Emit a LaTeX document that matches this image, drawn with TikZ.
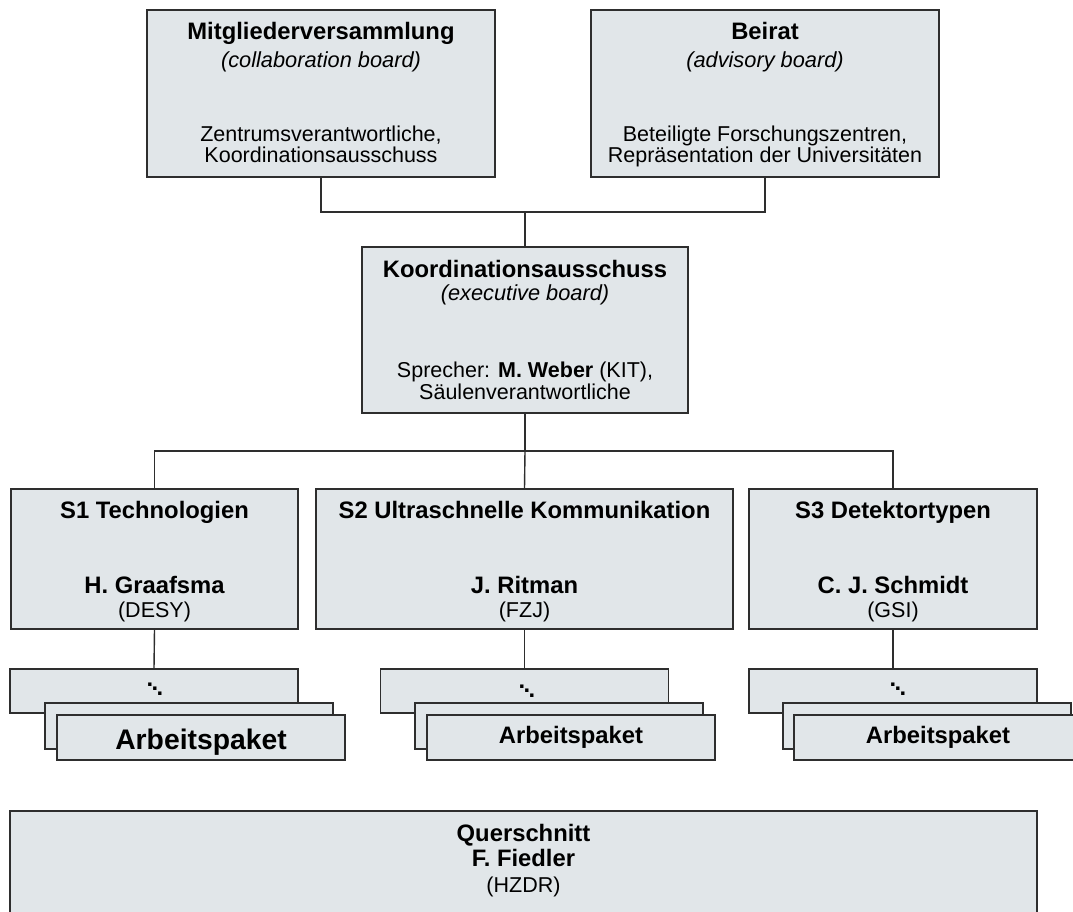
\documentclass[tikz,border=0pt]{standalone}
\usepackage{fontspec}
\setmainfont{Liberation Sans}
\definecolor{boxfill}{HTML}{E1E6E9}
\definecolor{edge}{HTML}{2E2E2E}
\newcommand{\wpdots}{{\bfseries\raisebox{9pt}{.}\kern-1.6pt\raisebox{4.5pt}{.}\kern-1.6pt.}}
\begin{document}
\begin{tikzpicture}[x=1pt,y=-1pt,
  box/.style={draw=edge,fill=boxfill,line width=1.4pt,inner sep=0pt,rectangle},
  txt/.style={anchor=base,inner sep=0pt,text=black,font=\fontsize{21.5}{24}\selectfont},
  btxt/.style={anchor=base,inner sep=0pt,text=black,font=\fontsize{23.8}{26}\selectfont\bfseries},
  itxt/.style={anchor=base,inner sep=0pt,text=black,font=\fontsize{21.8}{24}\selectfont\itshape},
  bigtxt/.style={anchor=base,inner sep=0pt,text=black,font=\fontsize{28.3}{30}\selectfont\bfseries},
  dotstxt/.style={anchor=base,inner sep=0pt,text=black,font=\fontsize{23.8}{26}\selectfont},
  conn/.style={draw=edge,line width=1.4pt}]
\clip (0,0) rectangle (1073,912);
\fill[white] (0,0) rectangle (1073,912);

% top boxes
\node[box,minimum width=348pt,minimum height=167pt] (mv) at (321,93.5) {};
\node[box,minimum width=348pt,minimum height=167pt] (br) at (765,93.5) {};
\node[box,minimum width=326pt,minimum height=166pt] (ka) at (525,330) {};

% pillar boxes
\node[box,minimum width=287pt,minimum height=140pt] (s1) at (154.5,559) {};
\node[box,minimum width=417pt,minimum height=140pt] (s2) at (524.5,559) {};
\node[box,minimum width=288pt,minimum height=140pt] (s3) at (893,559) {};

% work package stacks
\node[box,minimum width=288pt,minimum height=44pt] (b1) at (154,691) {};
\node[box,minimum width=288pt,minimum height=46pt] (m1) at (189,726) {};
\node[box,minimum width=288pt,minimum height=45pt] (f1) at (201,737.5) {};
\node[box,minimum width=288pt,minimum height=44pt] (b2) at (524.5,691) {};
\node[box,minimum width=288pt,minimum height=46pt] (m2) at (559,726) {};
\node[box,minimum width=288pt,minimum height=45pt] (f2) at (571,737.5) {};
\node[box,minimum width=288pt,minimum height=44pt] (b3) at (893,691) {};
\node[box,minimum width=288pt,minimum height=46pt] (m3) at (927,726) {};
\node[box,minimum width=288pt,minimum height=45pt] (f3) at (938,737.5) {};

% cross-section box
\node[box,minimum width=1027pt,minimum height=138pt] (qs) at (523.5,880) {};

% connectors
\coordinate (j1) at (525,212);
\coordinate (j2) at (525,451);
\draw[conn] (mv.south) |- (j1) -| (br.south);
\draw[conn] (j1) -- (ka.north);
\draw[conn] (ka.south) -- (j2);
\draw[conn] (s1.north) |- (j2) -| (s3.north);
\draw[conn] (j2) -- (s2.north);
\draw[conn] (s1.south) -- (b1.north);
\draw[conn] (s2.south) -- (b2.north);
\draw[conn] (s3.south) -- (b3.north);

% texts: Mitgliederversammlung
\node[btxt] (mv1) at (321,40) {Mitgliederversammlung};
\node[itxt] (mv2) at (321,68) {(collaboration board)};
\node[txt] (mv3) at (321,142) {Zentrumsverantwortliche,};
\node[txt] (mv4) at (321,163) {Koordinationsausschuss};
% Beirat
\node[btxt] (br1) at (765,40) {Beirat};
\node[itxt] (br2) at (765,68) {(advisory board)};
\node[txt] (br3) at (765,142) {Beteiligte Forschungszentren,};
\node[txt] (br4) at (765,163) {Repräsentation der Universitäten};
% Koordinationsausschuss
\node[btxt] (ka1) at (525,277) {Koordinationsausschuss};
\node[itxt] (ka2) at (525,300) {(executive board)};
\node[txt] (ka3) at (525,377) {Sprecher: \textbf{M. Weber} (KIT),};
\node[txt] (ka4) at (525,399) {Säulenverantwortliche};
% pillars
\node[btxt] (s1a) at (154.5,518) {S1 Technologien};
\node[btxt] (s1b) at (154.5,593) {H. Graafsma};
\node[txt] (s1c) at (154.5,617) {(DESY)};
\node[btxt] (s2a) at (524.5,518) {S2 Ultraschnelle Kommunikation};
\node[btxt] (s2b) at (524.5,593) {J. Ritman};
\node[txt] (s2c) at (524.5,617) {(FZJ)};
\node[btxt] (s3a) at (893,518) {S3 Detektortypen};
\node[btxt] (s3b) at (893,593) {C. J. Schmidt};
\node[txt] (s3c) at (893,617) {(GSI)};
% stacks
\node[dotstxt] (d1) at (155,695) {\wpdots};
\node[dotstxt] (d2) at (527,697) {\wpdots};
\node[dotstxt] (d3) at (898,695) {\wpdots};
\node[bigtxt] (f1t) at (201,749) {Arbeitspaket};
\node[btxt] (f2t) at (571,743) {Arbeitspaket};
\node[btxt] (f3t) at (938,743) {Arbeitspaket};
% cross-section
\node[btxt] (qs1) at (523.5,841) {Querschnitt};
\node[btxt] (qs2) at (523.5,866) {F. Fiedler};
\node[txt] (qs3) at (523.5,892) {(HZDR)};
\end{tikzpicture}
\end{document}
